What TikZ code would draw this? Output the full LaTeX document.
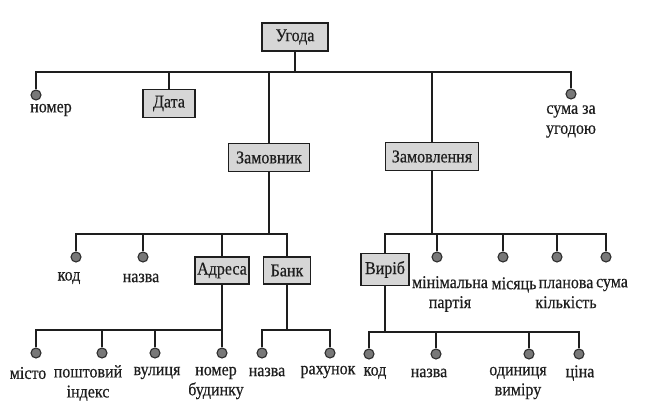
\documentclass[tikz,border=0pt]{standalone}
\usepackage{fontspec}
\setmainfont{Liberation Serif}[FakeStretch=0.89, FakeBold=0.5]
\definecolor{boxgray}{RGB}{214,214,214}
\definecolor{dotgray}{RGB}{120,120,120}
\definecolor{dotline}{RGB}{45,45,45}
\definecolor{ink}{RGB}{30,30,30}
\begin{document}
\begin{tikzpicture}[x=1pt,y=-1pt,
  line width=1.3pt, draw=ink,
  box/.style={draw=ink, line width=1.5pt, fill=boxgray, minimum height=28pt, inner xsep=2pt, inner ysep=0pt,
    text=ink, font=\fontsize{18}{20}\selectfont},
  leaf/.style={circle, draw=dotline, fill=dotgray, line width=1.1pt, minimum size=10pt, inner sep=0pt},
  lbl/.style={align=center, inner sep=0pt, text=ink, font=\fontsize{18}{20}\selectfont},
]
\useasboundingbox (0,0) rectangle (648,409);
\coordinate (b1) at (0,72);
\coordinate (b2) at (0,234);
\coordinate (b3) at (0,330);
\coordinate (b4) at (0,332);

% level 0/1
\node[box, minimum width=66pt] (ugoda) at (295,37) {Угода};
\node[leaf] (nomer) at (36,95) {};
\node[lbl] (nomerL) at (51,110) {номер};
\node[box, minimum width=52pt] (data) at (169,103.5) {Дата};
\node[box, minimum width=81pt] (zamovnyk) at (269,157.5) {Замовник};
\node[box, minimum width=93pt] (zamovl) at (432,156.5) {Замовлення};
\node[leaf] (suma1) at (571,94) {};
\node[lbl] (suma1L) at (571,121.5) {сума за\\угодою};

\draw (ugoda.south) -- (ugoda.south |- b1);
\draw (nomer.north) -- (nomer |- b1) -- (suma1 |- b1) -- (suma1.north);
\draw (data.north) -- (data.north |- b1);
\draw (zamovnyk.north) -- (zamovnyk.north |- b1);
\draw (zamovl.north) -- (zamovl.north |- b1);

% Замовник
\node[leaf] (kod1) at (76,257) {};
\node[lbl] (kod1L) at (69,278) {код};
\node[leaf] (nazva1) at (143,257) {};
\node[lbl] (nazva1L) at (141,278) {назва};
\node[box, minimum width=54pt, minimum height=27pt] (adresa) at (222,270.5) {Адреса};
\node[box, minimum width=47pt, minimum height=27pt] (bank) at (287,270.5) {Банк};

\draw (zamovnyk.south) -- (zamovnyk.south |- b2);
\draw (kod1.north) -- (kod1 |- b2) -- (bank.north |- b2) -- (bank.north);
\draw (nazva1.north) -- (nazva1 |- b2);
\draw (adresa.north) -- (adresa.north |- b2);

% Адреса
\node[leaf] (misto) at (36,353) {};
\node[lbl] (mistoL) at (28,373) {місто};
\node[leaf] (posht) at (102,353) {};
\node[lbl] (poshtL) at (88,383) {поштовий\\індекс};
\node[leaf] (vul) at (155,353) {};
\node[lbl] (vulL) at (157,373) {вулиця};
\node[leaf] (nbud) at (222,353) {};
\node[lbl] (nbudL) at (216,383) {номер\\будинку};

\draw (adresa.south) -- (adresa.south |- b3);
\draw (misto.north) -- (misto |- b3) -- (nbud |- b3) -- (nbud.north);
\draw (posht.north) -- (posht |- b3);
\draw (vul.north) -- (vul |- b3);

% Банк
\node[leaf] (nazva2) at (262,353) {};
\node[lbl] (nazva2L) at (267,372) {назва};
\node[leaf] (rakh) at (330,353) {};
\node[lbl] (rakhL) at (328,372) {рахунок};

\draw (bank.south) -- (bank.south |- b3);
\draw (nazva2.north) -- (nazva2 |- b3) -- (rakh |- b3) -- (rakh.north);

% Замовлення
\node[box, minimum width=48pt, minimum height=32pt] (viryb) at (385,269.5) {Виріб};
\node[leaf] (minp) at (437,257) {};
\node[lbl] (minpL) at (450,294) {мінімальна\\партія};
\node[leaf] (mis) at (503,257) {};
\node[lbl] (misL) at (514,285) {місяць};
\node[leaf] (plan) at (557,257) {};
\node[lbl] (planL) at (566,294) {планова\\кількість};
\node[leaf] (suma2) at (606,257) {};
\node[lbl] (suma2L) at (612,285) {сума};

\draw (zamovl.south) -- (zamovl.south |- b2);
\draw (viryb.north) -- (viryb.north |- b2) -- (suma2 |- b2) -- (suma2.north);
\draw (minp.north) -- (minp |- b2);
\draw (mis.north) -- (mis |- b2);
\draw (plan.north) -- (plan |- b2);

% Виріб
\node[leaf] (kod2) at (369,354) {};
\node[lbl] (kod2L) at (375,373) {код};
\node[leaf] (nazva3) at (436,354) {};
\node[lbl] (nazva3L) at (429,373) {назва};
\node[leaf] (odyn) at (529,354) {};
\node[lbl] (odynL) at (518,383) {одиниця\\виміру};
\node[leaf] (tsina) at (579,354) {};
\node[lbl] (tsinaL) at (580,373) {ціна};

\draw (viryb.south) -- (viryb.south |- b4);
\draw (kod2.north) -- (kod2 |- b4) -- (tsina |- b4) -- (tsina.north);
\draw (nazva3.north) -- (nazva3 |- b4);
\draw (odyn.north) -- (odyn |- b4);
\end{tikzpicture}
\end{document}
